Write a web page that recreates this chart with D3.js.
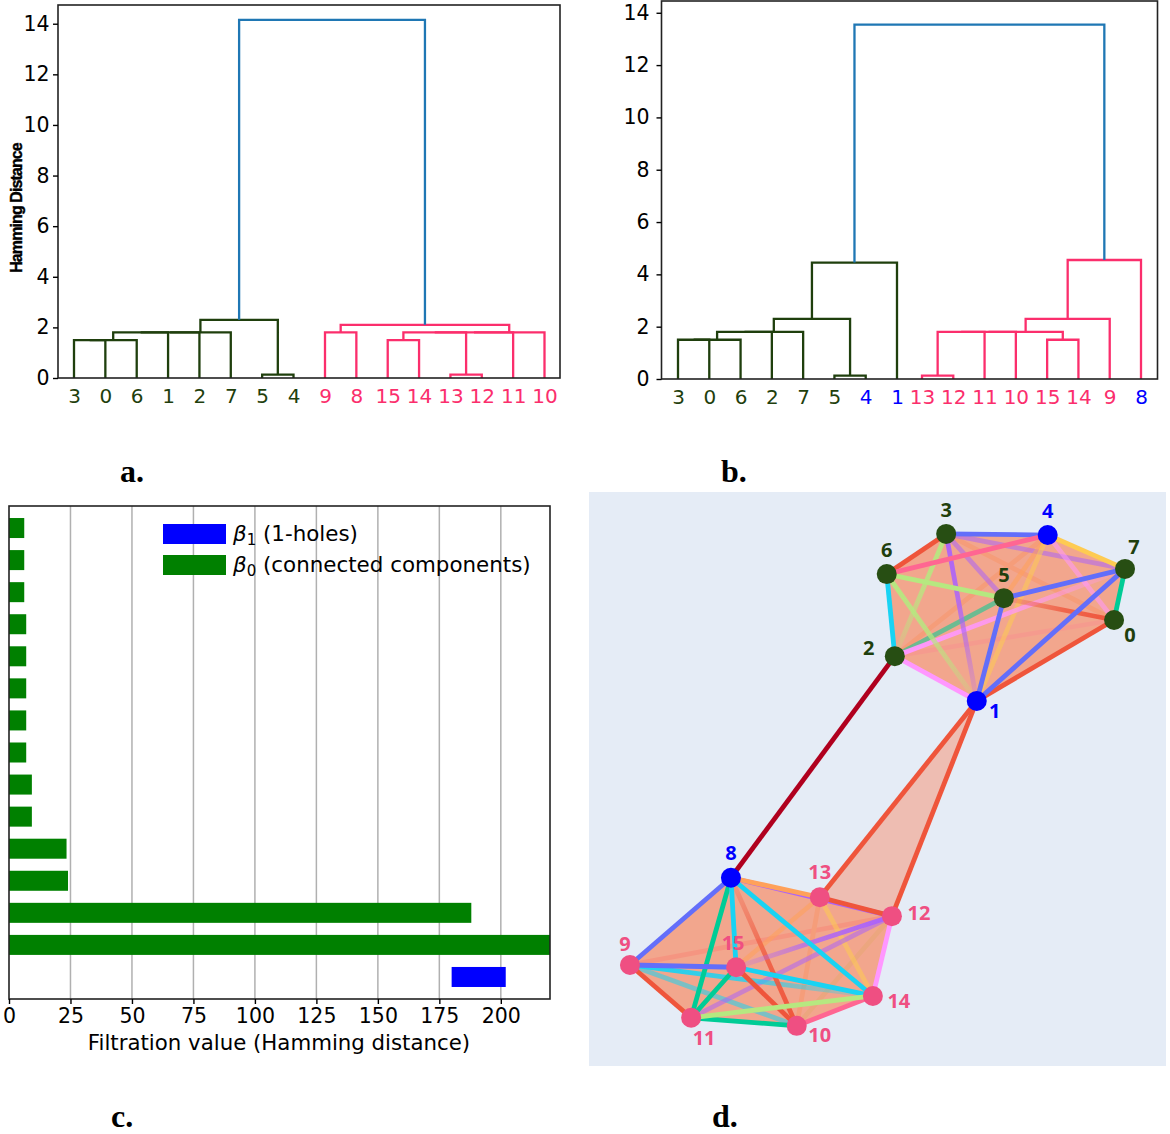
<!DOCTYPE html>
<html>
<head>
<meta charset="utf-8">
<script src="https://cdn.jsdelivr.net/npm/d3@7"></script>
<style>
  body { margin: 0; background: #fff; }
  svg { display: block; }
  text { font-family: "DejaVu Sans", sans-serif; }
</style>
</head>
<body>
<div id="chart"></div>
<script>
// dendrogram a: linkage rows [left, right, height], ids from 16 are earlier rows
const leavesA = [3, 0, 6, 1, 2, 7, 5, 4, 9, 8, 15, 14, 13, 12, 11, 10];
const groupsA = ['g', 'g', 'g', 'g', 'g', 'g', 'g', 'g', 'p', 'p', 'p', 'p', 'p', 'p', 'p', 'p'];
const linkageA = [
  [3, 0, 1.5], [16, 6, 1.5], [17, 1, 1.8], [18, 2, 1.8], [19, 7, 1.8], [5, 4, 0.13], [20, 21, 2.3],
  [9, 8, 1.8], [15, 14, 1.5], [13, 12, 0.13], [24, 25, 1.8], [26, 11, 1.8], [27, 10, 1.8], [23, 28, 2.1],
  [22, 29, 14.15]
];

// dendrogram b
const leavesB = [3, 0, 6, 2, 7, 5, 4, 1, 13, 12, 11, 10, 15, 14, 9, 8];
const groupsB = ['g', 'g', 'g', 'g', 'g', 'g', 'b', 'b', 'p', 'p', 'p', 'p', 'p', 'p', 'p', 'b'];
const linkageB = [
  [3, 0, 1.5], [16, 6, 1.5], [17, 2, 1.8], [18, 7, 1.8], [5, 4, 0.13], [19, 20, 2.3], [21, 1, 4.45],
  [13, 12, 0.13], [23, 11, 1.8], [24, 10, 1.8], [15, 14, 1.5], [25, 26, 1.8], [27, 9, 2.3], [28, 8, 4.55],
  [22, 29, 13.55]
];
const yTicks = [0, 2, 4, 6, 8, 10, 12, 14];

// persistence barcode, top to bottom
const barStart = [0, 0, 0, 0, 0, 0, 0, 0, 0, 0, 0, 0, 0, 0, 180];
const barEnd = [6.2, 6.2, 6.2, 7, 7, 7, 7, 7, 9.3, 9.3, 23.4, 24, 188, 220, 202];
const barDim = [0, 0, 0, 0, 0, 0, 0, 0, 0, 0, 0, 0, 0, 0, 1];
const xTicks = [0, 25, 50, 75, 100, 125, 150, 175, 200];

// complex in layout units (0-100 across the panel)
const nodeX = [91.0, 67.2, 53.0, 61.9, 79.5, 71.9, 51.6, 92.9, 24.6, 7.1, 36.0, 17.7, 52.5, 40.0, 49.2, 25.5];
const nodeY = [22.3, 36.4, 28.6, 7.3, 7.5, 18.5, 14.3, 13.4, 67.2, 82.4, 93.0, 91.6, 73.9, 70.6, 87.8, 82.8];
const nodeGroup = ['g', 'b', 'g', 'g', 'b', 'g', 'g', 'g', 'b', 'p', 'p', 'p', 'p', 'p', 'p', 'p'];
const clusterTop = [0, 1, 2, 3, 4, 5, 6, 7];
const clusterBottom = [8, 9, 10, 11, 12, 13, 14, 15];
const bridgeFace = [1, 13, 12];

// edges [a, b, colour key]
const edgesUnder = [
  [3, 0, 'orange'], [2, 0, 'magenta'], [2, 4, 'orange'],
  [9, 12, 'pink'], [10, 12, 'lime'], [10, 13, 'orange']
];
const edgesMid = [
  [3, 7, 'purple'], [3, 5, 'purple'], [4, 5, 'orange'], [4, 1, 'yellow'], [4, 0, 'magenta'], [2, 5, 'green'],
  [15, 13, 'orange'], [13, 14, 'yellow'], [9, 10, 'cyan'], [11, 12, 'purple']
];
// these show strongly at the first node and sink into the faces towards the second
const edgesFading = [
  [2, 7, 'magenta'], [0, 5, 'red'], [3, 2, 'lime'], [6, 1, 'lime'], [3, 1, 'purple'],
  [9, 14, 'cyan'], [10, 8, 'red'], [12, 15, 'purple']
];
const edgesTop = [
  [6, 3, 'red'], [3, 4, 'blue'], [4, 7, 'yellow'], [7, 0, 'green'], [0, 1, 'red'], [1, 2, 'magenta'], [2, 6, 'cyan'],
  [6, 4, 'pink'], [6, 5, 'lime'], [5, 7, 'blue'], [5, 1, 'blue'], [1, 7, 'blue'],
  [8, 12, 'purple'], [8, 9, 'blue'], [9, 11, 'red'], [11, 10, 'green'], [10, 14, 'pink'], [14, 12, 'magenta'], [12, 13, 'red'], [13, 8, 'orange'],
  [8, 11, 'green'], [8, 15, 'cyan'], [8, 14, 'cyan'], [9, 15, 'blue'], [15, 11, 'green'], [15, 10, 'red'], [15, 14, 'cyan'],
  [11, 14, 'lime'], [1, 13, 'red'], [1, 12, 'red'], [2, 8, 'dark']
];

const colors = { g: '#1f3f0d', p: '#fb2e6c', b: '#0000ff' };
const nodeColors = { g: '#274e13', p: '#ef4f82', b: '#0000ff' };
const edgeColor = d3.scaleOrdinal()
  .domain(['blue', 'red', 'green', 'purple', 'orange', 'cyan', 'pink', 'lime', 'magenta', 'yellow', 'dark'])
  .range(['#636efa', '#ef553b', '#00cc96', '#ab63fa', '#ffa15a', '#19d3f3', '#ff6692', '#b6e880', '#ff97ff', '#fecb52', '#b0001e']);

const svg = d3.select('#chart').append('svg').attr('width', 1170).attr('height', 1134);
const defs = svg.append('defs');

const drawDendrogram = (leaves, groups, linkage, box, yMax) => {
  // the right hand cluster of b sits a little closer to the left one, so slots are piecewise
  const slot = d3.scaleLinear().domain([0, 7, 8, 15]).range(box.slots);
  const x = d3.scaleOrdinal().domain(leaves).range(leaves.map((l, i) => slot(i)));
  const y = d3.scaleLinear().domain([0, yMax]).range([box.bottom, box.top]);
  const g = svg.append('g');

  // node positions: leaf slot, or the middle of the two children
  const pos = new Map(leaves.map((l) => [l, { x: x(l), h: 0 }]));
  linkage.forEach((row, i) => {
    pos.set(16 + i, { x: (pos.get(row[0]).x + pos.get(row[1]).x) / 2, h: row[2], kids: [row[0], row[1]] });
  });

  // colour comes from the branch under the root
  const colorOf = new Map();
  const paint = (id, c) => {
    colorOf.set(id, c);
    if (pos.get(id).kids) pos.get(id).kids.forEach((k) => paint(k, c));
  };
  const root = 16 + linkage.length - 1;
  paint(pos.get(root).kids[0], colors.g);
  paint(pos.get(root).kids[1], colors.p);
  colorOf.set(root, '#1f77b4');

  const line = d3.line().x((d) => d[0]).y((d) => d[1]);
  linkage.forEach((row, i) => {
    const a = pos.get(row[0]);
    const b = pos.get(row[1]);
    g.append('path')
      .attr('d', line([[a.x, y(a.h)], [a.x, y(row[2])], [b.x, y(row[2])], [b.x, y(b.h)]]))
      .attr('fill', 'none')
      .attr('stroke', colorOf.get(16 + i))
      .attr('stroke-width', 2.3);
  });

  g.append('rect')
    .attr('x', box.left).attr('y', box.top)
    .attr('width', box.right - box.left).attr('height', box.bottom - box.top)
    .attr('fill', 'none').attr('stroke', '#222').attr('stroke-width', 1.6);

  const yAxis = g.append('g').attr('transform', `translate(${box.left},0)`)
    .call(d3.axisLeft(y).tickValues(yTicks).tickSize(5).tickPadding(box.tickPad));
  yAxis.select('.domain').remove();
  yAxis.selectAll('text').style('font-size', '20.5px').attr('fill', '#000');
  yAxis.selectAll('line').attr('stroke-width', 1.4);

  const xAxis = g.append('g').attr('transform', `translate(0,${box.bottom})`)
    .call(d3.axisBottom(x).tickSize(0).tickPadding(11));
  xAxis.select('.domain').remove();
  xAxis.selectAll('text')
    .style('font-size', '20px')
    .attr('fill', (d, i) => colors[groups[i]]);
};

drawDendrogram(leavesA, groupsA, linkageA, { left: 58, right: 560, top: 5, bottom: 378, tickPad: 3.5, slots: [74, 293.5, 325, 544.5] }, 14.74);
drawDendrogram(leavesB, groupsB, linkageB, { left: 661.5, right: 1157.5, top: 1, bottom: 379, tickPad: 7, slots: [678, 897, 922, 1141] }, 14.45);

svg.append('text')
  .attr('transform', 'translate(22,208) rotate(-90)')
  .attr('text-anchor', 'middle')
  .style('font-family', '"Liberation Sans"')
  .style('font-weight', 'bold')
  .style('font-size', '16px')
  .style('letter-spacing', '-0.9px')
  .attr('stroke', '#000')
  .attr('stroke-width', 0.4)
  .text('Hamming Distance');

// panel captions
const captions = [['a.', 120, 482], ['b.', 721, 482], ['c.', 111, 1127], ['d.', 712, 1127]];
svg.selectAll('.caption').data(captions).enter().append('text')
  .attr('class', 'caption')
  .attr('x', (d) => d[1]).attr('y', (d) => d[2])
  .style('font-family', '"Liberation Serif"')
  .style('font-weight', 'bold')
  .style('font-size', '32px')
  .text((d) => d[0]);

// panel c
const cBox = { left: 9, right: 550, top: 506, bottom: 999 };
const xC = d3.scaleLinear().domain([0, 220]).range([cBox.left, cBox.right]);
const yC = d3.scaleBand().domain(d3.range(barEnd.length)).range([cBox.top + 2.4, cBox.bottom - 2.4]).paddingInner(0.376).paddingOuter(0.3);
const gC = svg.append('g');

gC.selectAll('.grid').data(xTicks.slice(1)).enter().append('line')
  .attr('class', 'grid')
  .attr('x1', (d) => xC(d)).attr('x2', (d) => xC(d))
  .attr('y1', cBox.top).attr('y2', cBox.bottom)
  .attr('stroke', '#b0b0b0').attr('stroke-width', 1.5);

gC.selectAll('.bar').data(barEnd).enter().append('rect')
  .attr('class', 'bar')
  .attr('x', (d, i) => xC(barStart[i]))
  .attr('y', (d, i) => yC(i))
  .attr('width', (d, i) => xC(d) - xC(barStart[i]))
  .attr('height', yC.bandwidth())
  .attr('fill', (d, i) => (barDim[i] ? '#0000ff' : '#008000'));

gC.append('rect')
  .attr('x', cBox.left).attr('y', cBox.top)
  .attr('width', cBox.right - cBox.left).attr('height', cBox.bottom - cBox.top)
  .attr('fill', 'none').attr('stroke', '#222').attr('stroke-width', 1.6);

const xAxisC = gC.append('g').attr('transform', `translate(0,${cBox.bottom})`)
  .call(d3.axisBottom(xC).tickValues(xTicks).tickSize(5).tickPadding(4));
xAxisC.select('.domain').remove();
xAxisC.selectAll('text').style('font-size', '20.5px').attr('fill', '#000');
xAxisC.selectAll('line').attr('stroke-width', 1.4);

gC.append('text')
  .attr('x', 279).attr('y', 1050)
  .attr('text-anchor', 'middle')
  .style('font-size', '21.3px')
  .text('Filtration value (Hamming distance)');

const legendRows = [
  { sub: '1', label: ' (1-holes)', color: '#0000ff', y: 524 },
  { sub: '0', label: ' (connected components)', color: '#008000', y: 555 }
];
legendRows.forEach((row) => {
  gC.append('rect')
    .attr('x', 163).attr('y', row.y).attr('width', 63).attr('height', 20)
    .attr('fill', row.color);
  const t = gC.append('text').attr('x', 233).attr('y', row.y + 17).style('font-size', '21.4px');
  t.append('tspan').style('font-style', 'italic').text('β');
  t.append('tspan').attr('dy', 4).style('font-size', '15px').text(row.sub);
  t.append('tspan').attr('dy', -4).attr('xml:space', 'preserve').style('white-space', 'pre').text(row.label);
});

// panel d
const dBox = { left: 589, right: 1166, top: 492, bottom: 1066 };
const xD = d3.scaleLinear().domain([0, 100]).range([dBox.left, dBox.right]);
const yD = d3.scaleLinear().domain([0, 100]).range([dBox.top, dBox.bottom]);
const gD = svg.append('g');
const pt = (i) => [xD(nodeX[i]), yD(nodeY[i])];

gD.append('rect')
  .attr('x', dBox.left).attr('y', dBox.top)
  .attr('width', dBox.right - dBox.left).attr('height', dBox.bottom - dBox.top)
  .attr('fill', '#e5ecf6');

const drawEdges = (edges, opacity) => {
  gD.append('g').selectAll('line').data(edges).enter().append('line')
    .attr('x1', (d) => pt(d[0])[0]).attr('y1', (d) => pt(d[0])[1])
    .attr('x2', (d) => pt(d[1])[0]).attr('y2', (d) => pt(d[1])[1])
    .attr('stroke', (d) => edgeColor(d[2]))
    .attr('stroke-opacity', opacity)
    .attr('stroke-width', 4.8);
};

const drawFadingEdges = (edges) => {
  edges.forEach((d, i) => {
    const grad = defs.append('linearGradient')
      .attr('id', `fade${i}`)
      .attr('gradientUnits', 'userSpaceOnUse')
      .attr('x1', pt(d[0])[0]).attr('y1', pt(d[0])[1])
      .attr('x2', pt(d[1])[0]).attr('y2', pt(d[1])[1]);
    grad.append('stop').attr('offset', '0%').attr('stop-color', edgeColor(d[2])).attr('stop-opacity', 1);
    grad.append('stop').attr('offset', '45%').attr('stop-color', edgeColor(d[2])).attr('stop-opacity', 0.8);
    grad.append('stop').attr('offset', '100%').attr('stop-color', edgeColor(d[2])).attr('stop-opacity', 0.12);
    gD.append('line')
      .attr('x1', pt(d[0])[0]).attr('y1', pt(d[0])[1])
      .attr('x2', pt(d[1])[0]).attr('y2', pt(d[1])[1])
      .attr('stroke', `url(#fade${i})`)
      .attr('stroke-width', 4.8);
  });
};

drawEdges(edgesUnder, 1);

[clusterTop, clusterBottom].forEach((ids) => {
  gD.append('path')
    .attr('d', 'M' + d3.polygonHull(ids.map(pt)).join('L') + 'Z')
    .attr('fill', '#f49c7e')
    .attr('fill-opacity', 0.88);
});
gD.append('path')
  .attr('d', 'M' + bridgeFace.map(pt).join('L') + 'Z')
  .attr('fill', '#f2a58e')
  .attr('fill-opacity', 0.65);

drawEdges(edgesMid, 0.55);
drawFadingEdges(edgesFading);
drawEdges(edgesTop, 1);

gD.selectAll('circle').data(nodeX).enter().append('circle')
  .attr('cx', (d, i) => pt(i)[0]).attr('cy', (d, i) => pt(i)[1])
  .attr('r', 10)
  .attr('fill', (d, i) => nodeColors[nodeGroup[i]]);

// label placement around each node, pixels from centre
const labelOffset = [[16, 15], [18, 10], [-26, -8], [0, -24], [0, -24], [0, -23], [0, -24], [9, -22],
  [0, -25], [-5, -21], [23, 9], [13, 20], [27, -3], [0, -25], [26, 5], [-3, -24]];
gD.selectAll('.node-label').data(nodeX).enter().append('text')
  .attr('class', 'node-label')
  .attr('x', (d, i) => pt(i)[0] + labelOffset[i][0])
  .attr('y', (d, i) => pt(i)[1] + labelOffset[i][1])
  .attr('dy', '0.36em')
  .attr('text-anchor', 'middle')
  .style('font-family', '"Open Sans"')
  .style('font-weight', 'bold')
  .style('font-size', '20px')
  .attr('fill', (d, i) => (nodeGroup[i] === 'p' ? '#ef4f82' : colors[nodeGroup[i]]))
  .text((d, i) => i);
</script>
</body>
</html>
